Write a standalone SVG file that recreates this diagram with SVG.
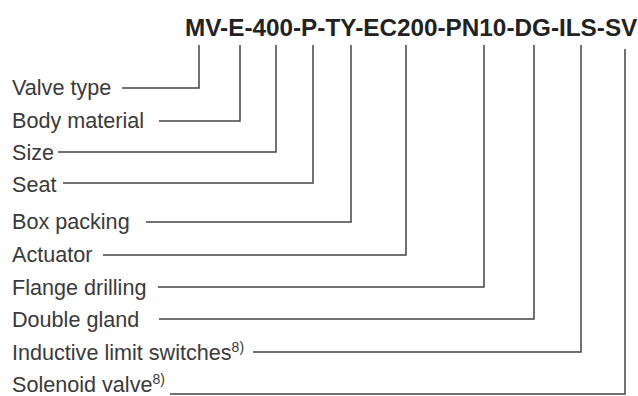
<svg xmlns="http://www.w3.org/2000/svg" width="638" height="396" viewBox="0 0 638 396">
<style>
.title{font-family:"Liberation Sans",Arial,sans-serif;font-weight:bold;font-size:24.3px;fill:#222}
.lbl{font-family:"Liberation Sans",Arial,sans-serif;font-size:21.6px;fill:#3a3a3a}
.sup{font-size:14px}
.ln{fill:none;stroke:#444;stroke-width:1.5}
</style>
<rect width="638" height="396" fill="#fff"/>
<g id="code"><text class="title" x="185" y="36">MV-E-400-P-TY-EC200-PN10-DG-ILS-SV</text></g>
<g id="label-valve-type"><text class="lbl" x="12" y="95">Valve type</text></g>
<g id="label-body-material"><text class="lbl" x="12" y="128">Body material</text></g>
<g id="label-size"><text class="lbl" x="12" y="160">Size</text></g>
<g id="label-seat"><text class="lbl" x="12" y="192">Seat</text></g>
<g id="label-box-packing"><text class="lbl" x="12" y="229">Box packing</text></g>
<g id="label-actuator"><text class="lbl" x="12" y="262">Actuator</text></g>
<g id="label-flange-drilling"><text class="lbl" x="12" y="295">Flange drilling</text></g>
<g id="label-double-gland"><text class="lbl" x="12" y="327">Double gland</text></g>
<g id="label-ils"><text class="lbl" x="12" y="360">Inductive limit switches<tspan class="sup" dy="-8">8)</tspan></text></g>
<g id="label-sv"><text class="lbl" x="12" y="392">Solenoid valve<tspan class="sup" dy="-8">8)</tspan></text></g>
<g id="connectors">
<polyline class="ln" points="122,88 199,88 199,45"/>
<polyline class="ln" points="159,121 240,121 240,45"/>
<polyline class="ln" points="58,152 276,152 276,45"/>
<polyline class="ln" points="63,183 313,183 313,45"/>
<polyline class="ln" points="146,222 351,222 351,45"/>
<polyline class="ln" points="103,255 406,255 406,45"/>
<polyline class="ln" points="158,287 484,287 484,45"/>
<polyline class="ln" points="159,319 534,319 534,45"/>
<polyline class="ln" points="253,352 581,352 581,45"/>
<polyline class="ln" points="170,394 625,394 625,49"/>
</g>
</svg>
